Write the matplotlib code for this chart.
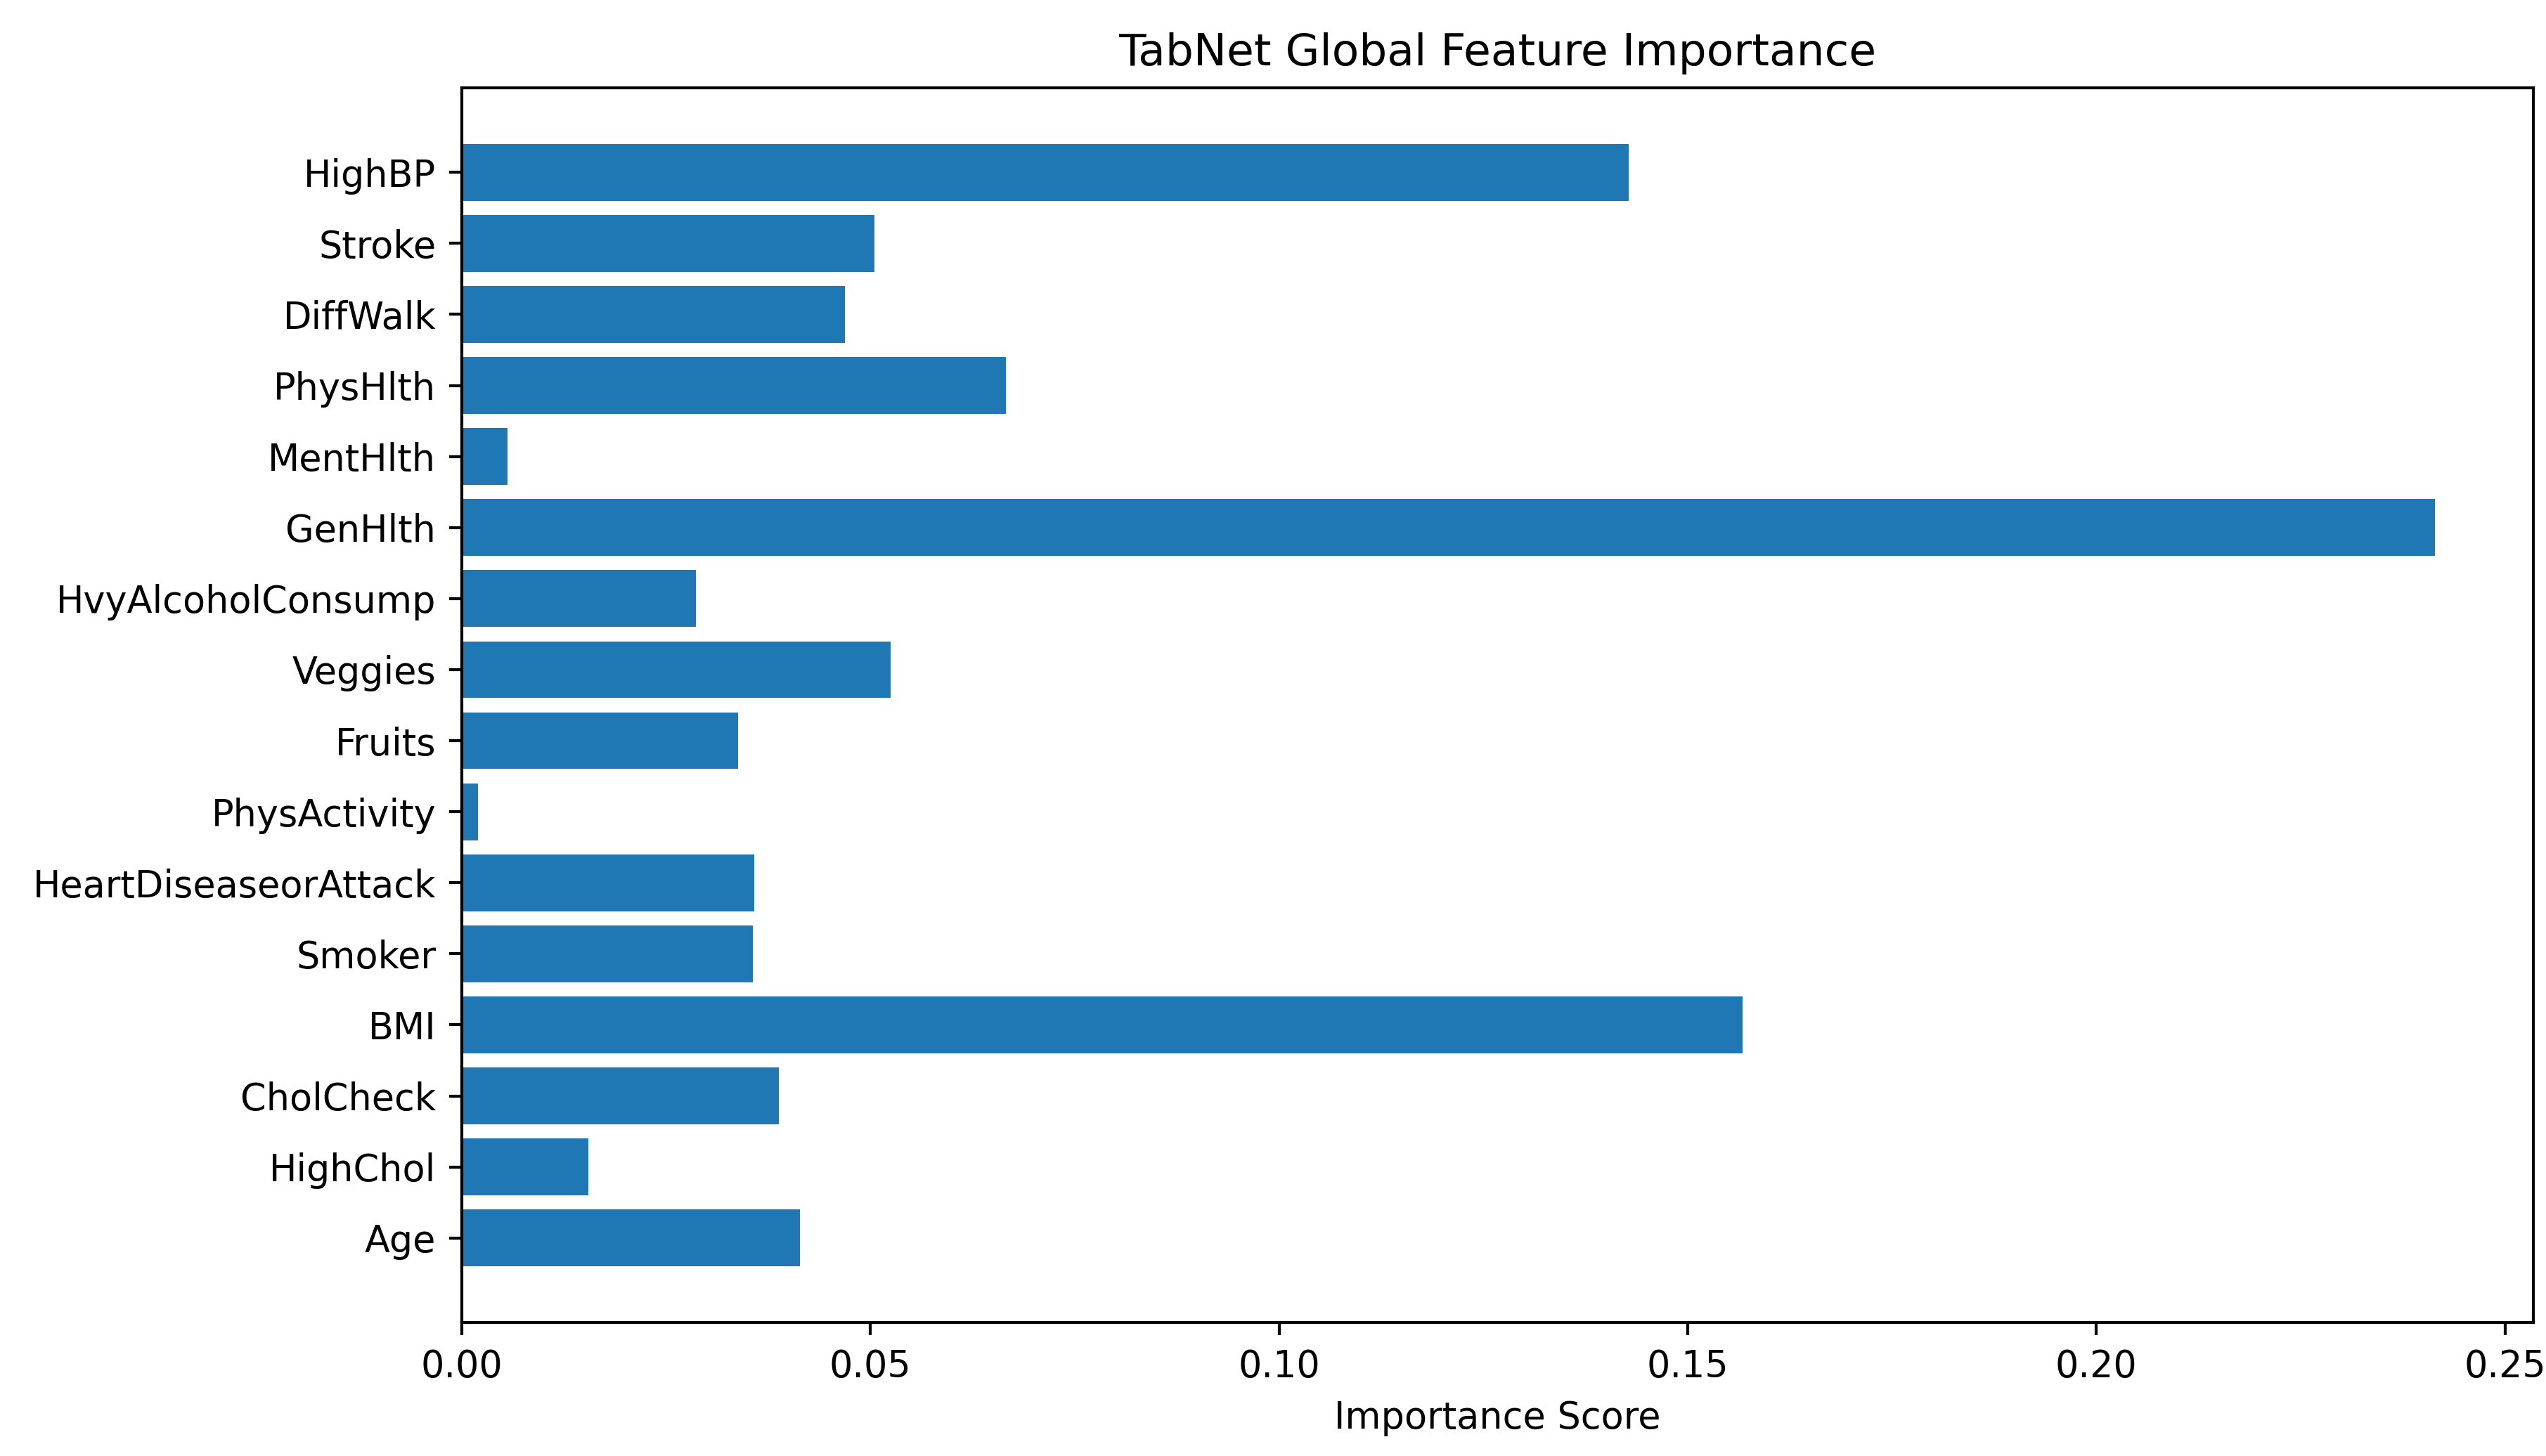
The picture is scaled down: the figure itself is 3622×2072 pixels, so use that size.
import matplotlib
matplotlib.use("Agg")
import matplotlib.pyplot as plt

features = ["Age", "HighChol", "CholCheck", "BMI", "Smoker", "HeartDiseaseorAttack",
            "PhysActivity", "Fruits", "Veggies", "HvyAlcoholConsump", "GenHlth",
            "MentHlth", "PhysHlth", "DiffWalk", "Stroke", "HighBP"]
importance = [0.0414, 0.0155, 0.0388, 0.1567, 0.0356, 0.0358,
              0.0020, 0.0338, 0.0525, 0.0286, 0.2414,
              0.0056, 0.0666, 0.0469, 0.0505, 0.1428]

DPI = 378
fig = plt.figure(figsize=(3622/DPI, 2072/DPI), dpi=DPI)
ax = fig.add_axes([657/3622, 1 - 1882/2072, (3604 - 657)/3622, (1882 - 125)/2072])
ax.barh(features, importance, color="#1f77b4")
ax.set_title("TabNet Global Feature Importance", fontsize=12)
ax.set_xlabel("Importance Score")
fig.savefig("out.png", dpi=DPI)
